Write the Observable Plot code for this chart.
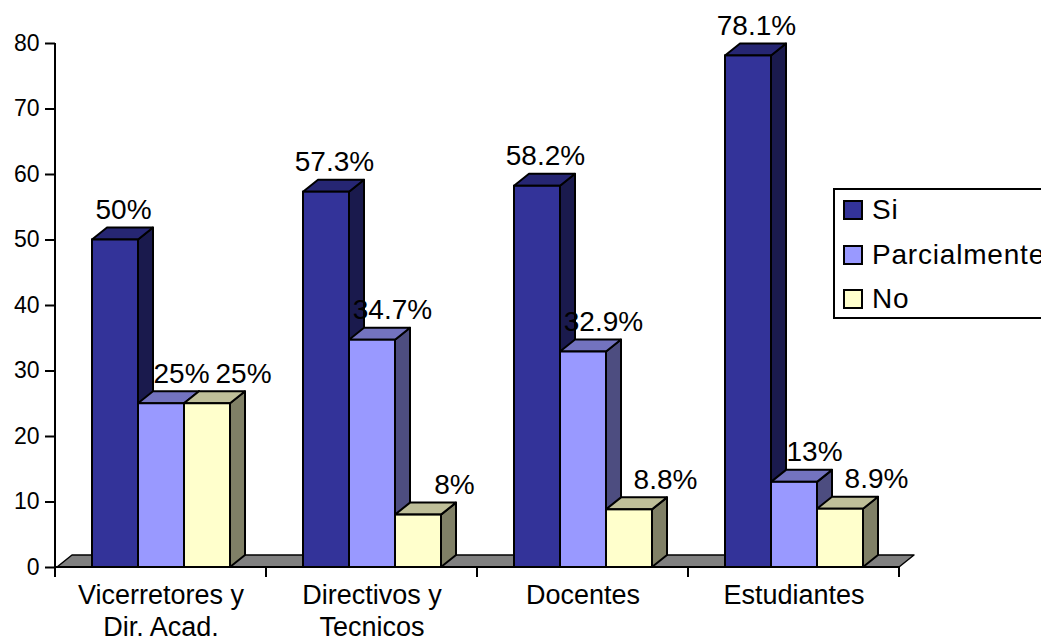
<!DOCTYPE html>
<html><head><meta charset="utf-8">
<script src="https://cdn.jsdelivr.net/npm/d3@7"></script>
<script src="https://cdn.jsdelivr.net/npm/@observablehq/plot@0.6"></script>
<style>
html,body{margin:0;padding:0;background:#fff;overflow:hidden;}
#wrap{position:relative;width:1041px;height:640px;overflow:hidden;font-family:"Liberation Sans",Arial,sans-serif;}
#legend{position:absolute;left:833px;top:188px;width:300px;height:131px;box-sizing:border-box;border:2px solid #000;background:#fff;}
.item{position:absolute;left:8px;display:flex;align-items:center;height:30px;font-size:28px;letter-spacing:0.8px;color:#000;white-space:nowrap;}
.sw{width:20px;height:20px;box-sizing:border-box;border:2px solid #000;margin-right:9px;flex:none;}
</style></head><body><div id="wrap"></div>
<script>
// ---- data ----
const categories = ["Vicerretores y\nDir. Acad.", "Directivos y\nTecnicos", "Docentes", "Estudiantes"];
const seriesNames = ["Si", "Parcialmente", "No"];
const siValues = [50, 57.3, 58.2, 78.1];
const parcialmenteValues = [25, 34.7, 32.9, 13];
const noValues = [25, 8, 8.8, 8.9];
const yTicks = [0, 10, 20, 30, 40, 50, 60, 70, 80];

// ---- styles ----
const seriesColors = ["#333399", "#9999FF", "#FFFFCC"];
const labelShift = {"Si": 8, "Parcialmente": 20, "No": 36};
const DX = 15, DY = 12;
const FONT = '"Liberation Sans", Arial, sans-serif';

const valuesBySeries = [siValues, parcialmenteValues, noValues];
const rows = [];
categories.forEach((c, i) => seriesNames.forEach((s, j) => rows.push({category: c, series: s, value: valuesBySeries[j][i]})));

function shade(color, k) {
  const c = d3.rgb(color);
  return d3.rgb(c.r * k, c.g * k, c.b * k).formatHex();
}

function bars3d(index, scales, values, dimensions, context, next) {
  const g = next(index, scales, values, dimensions, context);
  if (!g) return g;
  const rects = Array.from(g.querySelectorAll("rect"));
  rects.sort((a, b) => +a.getAttribute("x") - +b.getAttribute("x"));
  const parent = rects.length ? rects[0].parentNode : g;
  for (const r of rects) {
    const x = +r.getAttribute("x"), y = +r.getAttribute("y");
    const w = +r.getAttribute("width"), h = +r.getAttribute("height");
    const fill = r.getAttribute("fill") || "#333399";
    const side = document.createElementNS("http://www.w3.org/2000/svg", "polygon");
    side.setAttribute("points", `${x+w},${y} ${x+w+DX},${y-DY} ${x+w+DX},${y+h-DY} ${x+w},${y+h}`);
    side.setAttribute("fill", shade(fill, 0.5));
    side.setAttribute("stroke-linejoin", "round");
    const top = document.createElementNS("http://www.w3.org/2000/svg", "polygon");
    top.setAttribute("points", `${x},${y} ${x+DX},${y-DY} ${x+w+DX},${y-DY} ${x+w},${y}`);
    top.setAttribute("fill", shade(fill, 0.75));
    top.setAttribute("stroke-linejoin", "round");
    r.remove();
    parent.appendChild(side);
    parent.appendChild(top);
    parent.appendChild(r);
  }
  return g;
}

function floorRender(index, scales, values, dimensions) {
  if (!index.length || index[0] !== 0) return null;
  const {marginLeft, marginRight, width} = dimensions;
  const frameW = width - marginLeft - marginRight;
  const total = frameW < 500 ? frameW * categories.length : frameW;
  const n = categories.length;
  const step = total / n;
  const L = marginLeft, R = marginLeft + total;
  const y0 = scales.y(0), yTop = scales.y(yTicks[yTicks.length - 1]);
  const g = d3.create("svg:g");
  g.append("polygon")
    .attr("points", `${L+2},${y0} ${L+2+DX},${y0-DY} ${R+DX},${y0-DY} ${R},${y0}`)
    .attr("fill", "#808080").attr("stroke", "#000").attr("stroke-width", 1.5).attr("stroke-linejoin", "round");
  g.append("line").attr("x1", L).attr("x2", L).attr("y1", yTop).attr("y2", y0)
    .attr("stroke", "#000").attr("stroke-width", 2);
  g.append("line").attr("x1", L).attr("x2", R).attr("y1", y0).attr("y2", y0)
    .attr("stroke", "#000").attr("stroke-width", 2);
  for (let k = 0; k <= n; k++) {
    g.append("line").attr("x1", L + k * step).attr("x2", L + k * step).attr("y1", y0).attr("y2", y0 + 10)
      .attr("stroke", "#000").attr("stroke-width", 2);
  }
  return g.node();
}

const labelMarks = seriesNames.map(s => Plot.text(rows.filter(d => d.series === s), {
  fx: "category", x: "series", y: "value",
  text: d => `${d.value}%`,
  dx: labelShift[s], dy: -21, lineAnchor: "bottom",
  fontSize: 28, fill: "#000", fontFamily: FONT
}));

const plot = Plot.plot({
  width: 1041, height: 640,
  marginLeft: 54, marginRight: 141, marginTop: 43, marginBottom: 73,
  style: {fontFamily: FONT, background: "white", overflow: "visible", color: "#000"},
  fx: {domain: categories, padding: 0, axis: null, label: null},
  x: {domain: seriesNames, paddingInner: 0, paddingOuter: 0.765, axis: null},
  y: {domain: [0, 80], axis: null},
  color: {domain: seriesNames, range: seriesColors},
  marks: [
    Plot.ruleY(categories, {fx: d => d, y: () => 0, render: floorRender}),
    Plot.barY(rows, {fx: "category", x: "series", y: "value", fill: "series", stroke: "#000", strokeWidth: 2, render: bars3d}),
    ...labelMarks,
    Plot.axisY({ticks: yTicks, tickSize: 10, tickPadding: 6, fontSize: 23, strokeWidth: 2, label: null, fontFamily: FONT}),
    Plot.text(categories, {fx: d => d, text: d => d, frameAnchor: "bottom", lineAnchor: "top", dy: 13, fontSize: 27, lineHeight: 1.2, fill: "#000", fontFamily: FONT})
  ]
});

const wrap = document.getElementById("wrap");
wrap.appendChild(plot);

// legend
const legend = document.createElement("div");
legend.id = "legend";
const rowTops = [5, 50, 94];
seriesNames.forEach((s, j) => {
  const item = document.createElement("div");
  item.className = "item";
  item.style.top = rowTops[j] + "px";
  const sw = document.createElement("span");
  sw.className = "sw";
  sw.style.background = seriesColors[j];
  const t = document.createElement("span");
  t.textContent = s;
  item.appendChild(sw);
  item.appendChild(t);
  legend.appendChild(item);
});
wrap.appendChild(legend);
</script>
</body></html>
